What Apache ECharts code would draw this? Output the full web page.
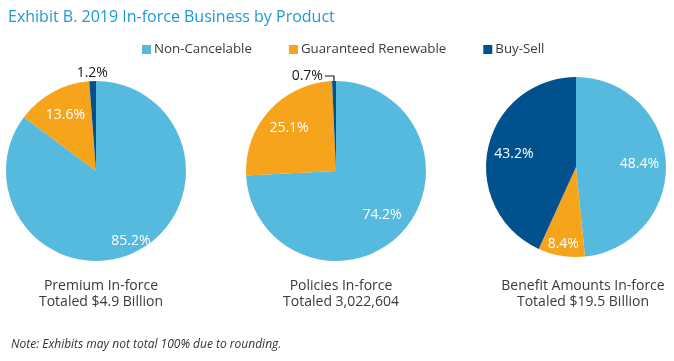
<!DOCTYPE html>
<html>
<head>
<meta charset="utf-8">
<script src="https://cdn.jsdelivr.net/npm/echarts@6/dist/echarts.min.js"></script>
<style>
html,body{margin:0;padding:0;background:#fff;}
#c{width:674px;height:361px;}
</style>
</head>
<body>
<div id="c"></div>
<script>
// ---- data ----
const categories = ['Non-Cancelable', 'Guaranteed Renewable', 'Buy-Sell'];
const premiumValues = [85.2, 13.6, 1.2];
const policiesValues = [74.2, 25.1, 0.7];
const benefitValues = [48.4, 8.4, 43.2];
const pieCaptions = [
  'Premium In-force\nTotaled $4.9 Billion',
  'Policies In-force\nTotaled 3,022,604',
  'Benefit Amounts In-force\nTotaled $19.5 Billion'
];
const titleText = 'Exhibit B. 2019 In-force Business by Product';
const noteText = 'Note: Exhibits may not total 100% due to rounding.';

// ---- style ----
const FONT = 'Open Sans';
const colors = ['#56B9DE', '#F6A41C', '#02518F'];
const pies = [
  {values: premiumValues, center: [96, 171], rings: ['far', 'mid', 'top']},
  {values: policiesValues, center: [336, 171], rings: ['mid', 'mid', 'outside']},
  {values: benefitValues, center: [576, 167], rings: ['mid', 'far', 'mid']}
];
const ringRadius = {mid: [31, 90], far: [60, 90], top: [86, 104]};
const R = 90;

const series = [];
pies.forEach((p, pi) => {
  // main visible pie
  series.push({
    type: 'pie',
    radius: R,
    center: p.center,
    startAngle: 90,
    clockwise: true,
    avoidLabelOverlap: false,
    silent: true,
    itemStyle: {borderWidth: 0},
    data: categories.map((name, i) => ({
      name: name,
      value: p.values[i],
      itemStyle: {color: colors[i]},
      label: p.rings[i] === 'outside' ? {
        show: true, position: 'outside', color: '#1a1a1a', fontSize: 14,
        fontFamily: FONT, fontWeight: 500, formatter: '{c}%', distanceToLabelLine: 2
      } : {show: false},
      labelLine: p.rings[i] === 'outside' ? {
        show: true, length: 5, length2: 9, smooth: false,
        lineStyle: {color: '#1a1a1a', width: 1.2}
      } : {show: false}
    }))
  });
  // label overlays
  Object.keys(ringRadius).forEach(ring => {
    if (!p.rings.includes(ring)) return;
    series.push({
      type: 'pie',
      radius: ringRadius[ring],
      center: p.center,
      startAngle: 90,
      clockwise: true,
      avoidLabelOverlap: false,
      silent: true,
      itemStyle: {color: 'rgba(0,0,0,0)'},
      labelLine: {show: false},
      data: categories.map((name, i) => ({
        name: name,
        value: p.values[i],
        itemStyle: {color: 'rgba(0,0,0,0)'},
        label: {
          show: p.rings[i] === ring,
          position: 'inside',
          formatter: '{c}%',
          fontSize: 14,
          fontFamily: FONT,
          color: ring === 'top' ? '#1a1a1a' : '#ffffff'
        }
      }))
    });
  });
});

const chart = echarts.init(document.getElementById('c'), null, {renderer: 'canvas'});
chart.setOption({
  animation: false,
  backgroundColor: '#ffffff',
  color: colors,
  title: [
    {text: titleText, left: 3, top: 4,
     textStyle: {color: '#1C9AD6', fontSize: 16, fontWeight: 'normal', fontFamily: FONT}},
    {text: noteText, left: 6, top: 334,
     textStyle: {color: '#333333', fontSize: 12, fontWeight: 'normal', fontStyle: 'italic', fontFamily: FONT}}
  ].concat(pies.map((p, i) => ({
    text: pieCaptions[i], left: p.center[0] + (i === 2 ? 2 : 0), top: 273, textAlign: 'center',
    textStyle: {color: '#3a3a3a', fontSize: 14, fontWeight: 'normal', lineHeight: 16, fontFamily: FONT}
  }))),
  legend: {
    data: categories,
    left: 137, top: 38,
    icon: 'rect', itemWidth: 9, itemHeight: 9, itemGap: 37,
    textStyle: {color: '#3a3a3a', fontSize: 13.3, fontFamily: FONT, padding: [0, 0, 0, -2]},
    selectedMode: false
  },
  series: series
});
</script>
</body>
</html>
